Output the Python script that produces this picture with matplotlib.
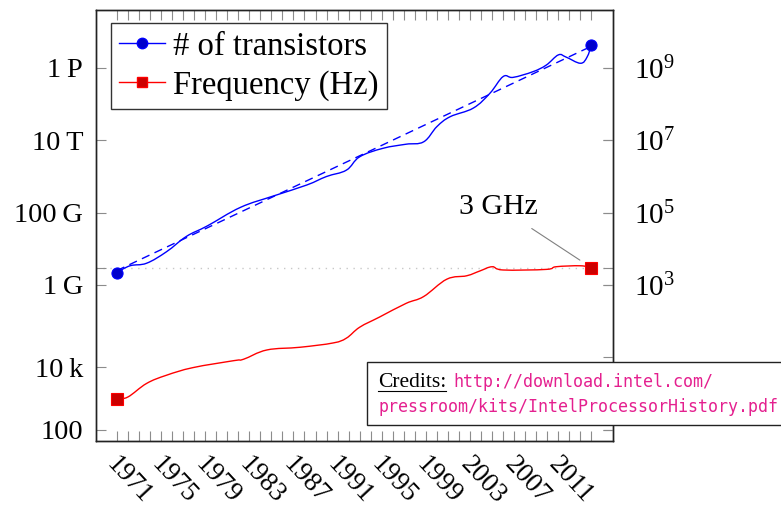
import numpy as np
import matplotlib

matplotlib.use("Agg")
import matplotlib.pyplot as plt
import matplotlib.transforms as mtransforms
from matplotlib.patches import Rectangle, PathPatch
from matplotlib.path import Path
from matplotlib.lines import Line2D

# data
transistor_years = [1971, 1972.2, 1973.7, 1975.5, 1977.3, 1979.2, 1982.2, 1985.2, 1988.2,
                    1990.0, 1991.8, 1993.0, 1995.1, 1997.2, 1998.8, 2000.0, 2001.2, 2003.3,
                    2004.8, 2006.0, 2006.9, 2008.7, 2009.9, 2011.0, 2011.7, 2013.0, 2013.6, 2014]
transistor_counts = [2.2e3, 3.4e3, 4.0e3, 8.3e3, 2.2e4, 4.3e4, 1.4e5, 2.9e5, 5.8e5,
                     1.0e6, 1.5e6, 3.5e6, 6.0e6, 7.8e6, 9.1e6, 2.4e7, 4.5e7, 7.8e7,
                     2.0e8, 5.8e8, 5.5e8, 7.9e8, 1.2e9, 2.3e9, 2.0e9, 1.35e9, 2.0e9, 4.4e9]
trend_years = [1971, 2014]
trend_counts = [2.5e3, 4.0e9]

freq_years = [1971, 1972, 1973.7, 1975.5, 1977.9, 1981.6, 1982.5, 1984.6, 1987.6, 1990.6,
              1991.8, 1993.0, 1994.8, 1997.2, 1998.8, 2000.9, 2002.7, 2003.9, 2005.0,
              2006.0, 2009.9, 2010.8, 2013.0, 2014]
freq_hz = [7.1e5, 8.0e5, 1.9e6, 3.2e6, 5.2e6, 8.1e6, 8.9e6, 1.6e7, 1.9e7, 2.5e7,
           3.4e7, 6.8e7, 1.3e8, 3.1e8, 4.8e8, 1.45e9, 1.8e9, 2.45e9, 3.2e9,
           2.6e9, 2.7e9, 3.2e9, 3.4e9, 3.0e9]
freq_3ghz = 3e9

year_ticks = list(range(1971, 2012, 4))
year_minor = list(range(1971, 2015))
left_tick_values = [1e5, 5.4e6, 1e9, 1e11, 1e13, 1e15]
left_tick_labels = ["100", "10\u2009k", "1\u2009G", "100\u2009G", "10\u2009T", "1\u2009P"]
right_tick_values = [1e-1, 1e1, 1e3, 1e5, 1e7, 1e9]
right_tick_labels = ["", "", r"$10^{3}$", r"$10^{5}$", r"$10^{7}$", r"$10^{9}$"]

plt.rcParams["font.family"] = ["Liberation Serif", "DejaVu Serif"]
plt.rcParams["mathtext.fontset"] = "custom"
plt.rcParams["mathtext.rm"] = "Liberation Serif"
plt.rcParams["mathtext.it"] = "Liberation Serif:italic"


def smooth_path(xs, ys, tension=0.55):
    # pgfplots-style "smooth": cardinal spline drawn as Bezier pieces, in log space for y
    x = np.asarray(xs, float)
    ly = np.log10(np.asarray(ys, float))
    verts = [(x[0], ly[0])]
    codes = [Path.MOVETO]
    n = len(x)
    for i in range(n - 1):
        x0, y0 = (x[i - 1], ly[i - 1]) if i > 0 else (x[i], ly[i])
        x3, y3 = (x[i + 2], ly[i + 2]) if i + 2 < n else (x[i + 1], ly[i + 1])
        t = tension / 3
        c1 = (x[i] + t * (x[i + 1] - x0), ly[i] + t * (ly[i + 1] - y0))
        c2 = (x[i + 1] - t * (x3 - x[i]), ly[i + 1] - t * (y3 - ly[i]))
        verts += [c1, c2, (x[i + 1], ly[i + 1])]
        codes += [Path.CURVE4] * 3
    verts = [(vx, 10 ** vy) for vx, vy in verts]
    return Path(verts, codes)


W, H = 781, 509
fig = plt.figure(figsize=(W / 100, H / 100), dpi=100)
ax = fig.add_axes([95.5 / W, 1 - 441 / H, (613 - 95.5) / W, (441 - 10) / H])
ax2 = ax.twinx()

ax.set_yscale("log")
ax2.set_yscale("log")
ax.set_xlim(1969.07, 2015.95)
ylo, yhi = 10 ** 4.687, 10 ** 16.603
ax.set_ylim(ylo, yhi)
ax2.set_ylim(ylo / 1e6, yhi / 1e6)

blue = "#0000ff"
red = "#ff0000"

ax.axhline(freq_3ghz, color="#c8c8c8", ls=(0, (1, 4)), lw=1.0, zorder=0)

ax.add_patch(PathPatch(smooth_path(freq_years, freq_hz), fc="none", ec=red, lw=1.0, zorder=3))
ax.plot([freq_years[0], freq_years[-1]], [freq_hz[0], freq_hz[-1]], ls="none",
        marker="s", ms=8, mfc="#cc0000", mec=red, mew=0.8, zorder=4)

ax2.plot(trend_years, trend_counts, color=blue, lw=1.0, ls=(0, (6, 4)), zorder=2)
ax2.add_patch(PathPatch(smooth_path(transistor_years, transistor_counts), fc="none", ec=blue,
                        lw=1.0, zorder=3))
ax2.plot([transistor_years[0], transistor_years[-1]], [transistor_counts[0], transistor_counts[-1]],
         ls="none", marker="o", ms=8, mfc="#0000cc", mec=blue, mew=0.8, zorder=4)

ax.annotate("3 GHz", xy=(freq_years[-1], freq_hz[-1]), xytext=(-67, 44),
            textcoords="offset points", ha="center", va="center", fontsize=21.5,
            arrowprops=dict(arrowstyle="-", color="#808080", lw=0.8, shrinkA=8, shrinkB=10))

# ticks
ax.set_xticks(year_ticks)
ax.set_xticks(year_minor, minor=True)
ax.set_xticklabels([str(y) for y in year_ticks])
ax.set_yticks(left_tick_values + [freq_3ghz])
ax.set_yticklabels(left_tick_labels + [""])
ax.yaxis.set_minor_locator(matplotlib.ticker.NullLocator())
ax2.set_yticks(right_tick_values)
ax2.set_yticklabels(right_tick_labels)
ax2.yaxis.set_minor_locator(matplotlib.ticker.NullLocator())

tick_col = "#8c8c8c"
ax.tick_params(axis="x", which="both", direction="in", top=True, bottom=True,
               length=7, width=0.8, color=tick_col, labelsize=19.5, pad=14)
ax.tick_params(axis="y", which="both", direction="in", left=True, right=True,
               labelright=False, length=7, width=0.8, color=tick_col, labelsize=20.5, pad=9)
ax2.tick_params(axis="y", which="both", direction="in", right=True, length=7, width=0.8,
                color=tick_col, labelsize=21, pad=15)

offset = mtransforms.ScaledTranslation(-6 / 100, 0, fig.dpi_scale_trans)
for lbl in ax.get_xticklabels():
    lbl.set_rotation(-47)
    lbl.set_ha("left")
    lbl.set_va("center")
    lbl.set_rotation_mode("anchor")
    lbl.set_transform(lbl.get_transform() + offset)

for a in (ax, ax2):
    for s in a.spines.values():
        s.set_color("#222222")
        s.set_linewidth(1.0)

h1 = Line2D([], [], color=blue, lw=1.0, marker="o", ms=7.5, mfc="#0000cc", mec=blue)
h2 = Line2D([], [], color=red, lw=1.0, marker="s", ms=7.5, mfc="#cc0000", mec=red)
leg = ax2.legend([h1, h2], ["# of transistors", "Frequency (Hz)"], loc="upper left",
                 bbox_to_anchor=(111 / W, 1 - 23 / H), bbox_transform=fig.transFigure,
                 borderaxespad=0, fontsize=23.5, frameon=True, fancybox=False, framealpha=1,
                 edgecolor="#333333", handlelength=1.4, handletextpad=0.25, labelspacing=0.25,
                 borderpad=0.25, numpoints=1)
leg.get_frame().set_linewidth(1.0)

# credits box
fig.add_artist(Rectangle((367 / W, 1 - 425 / H), (W - 367 + 20) / W, (425 - 361.7) / H,
                         transform=fig.transFigure, fc="white", ec="#222222", lw=1.0,
                         zorder=10, clip_on=False))
fig.text(378 / W, 1 - 387 / H, "Credits:", fontsize=15.5, va="baseline", ha="left", zorder=11)
fig.add_artist(Line2D([378 / W, 446 / W], [1 - 390.5 / H, 1 - 390.5 / H],
                      transform=fig.transFigure, color="black", lw=0.8, zorder=11))
url_col = "#e4208f"
fig.text(453 / W, 1 - 387 / H, "http://download.intel.com/", fontsize=12, va="baseline",
         ha="left", color=url_col, family="DejaVu Sans Mono", zorder=11)
fig.text(378 / W, 1 - 411.7 / H, "pressroom/kits/IntelProcessorHistory.pdf", fontsize=12,
         va="baseline", ha="left", color=url_col, family="DejaVu Sans Mono", zorder=11)

fig.savefig("out.png", dpi=100)
